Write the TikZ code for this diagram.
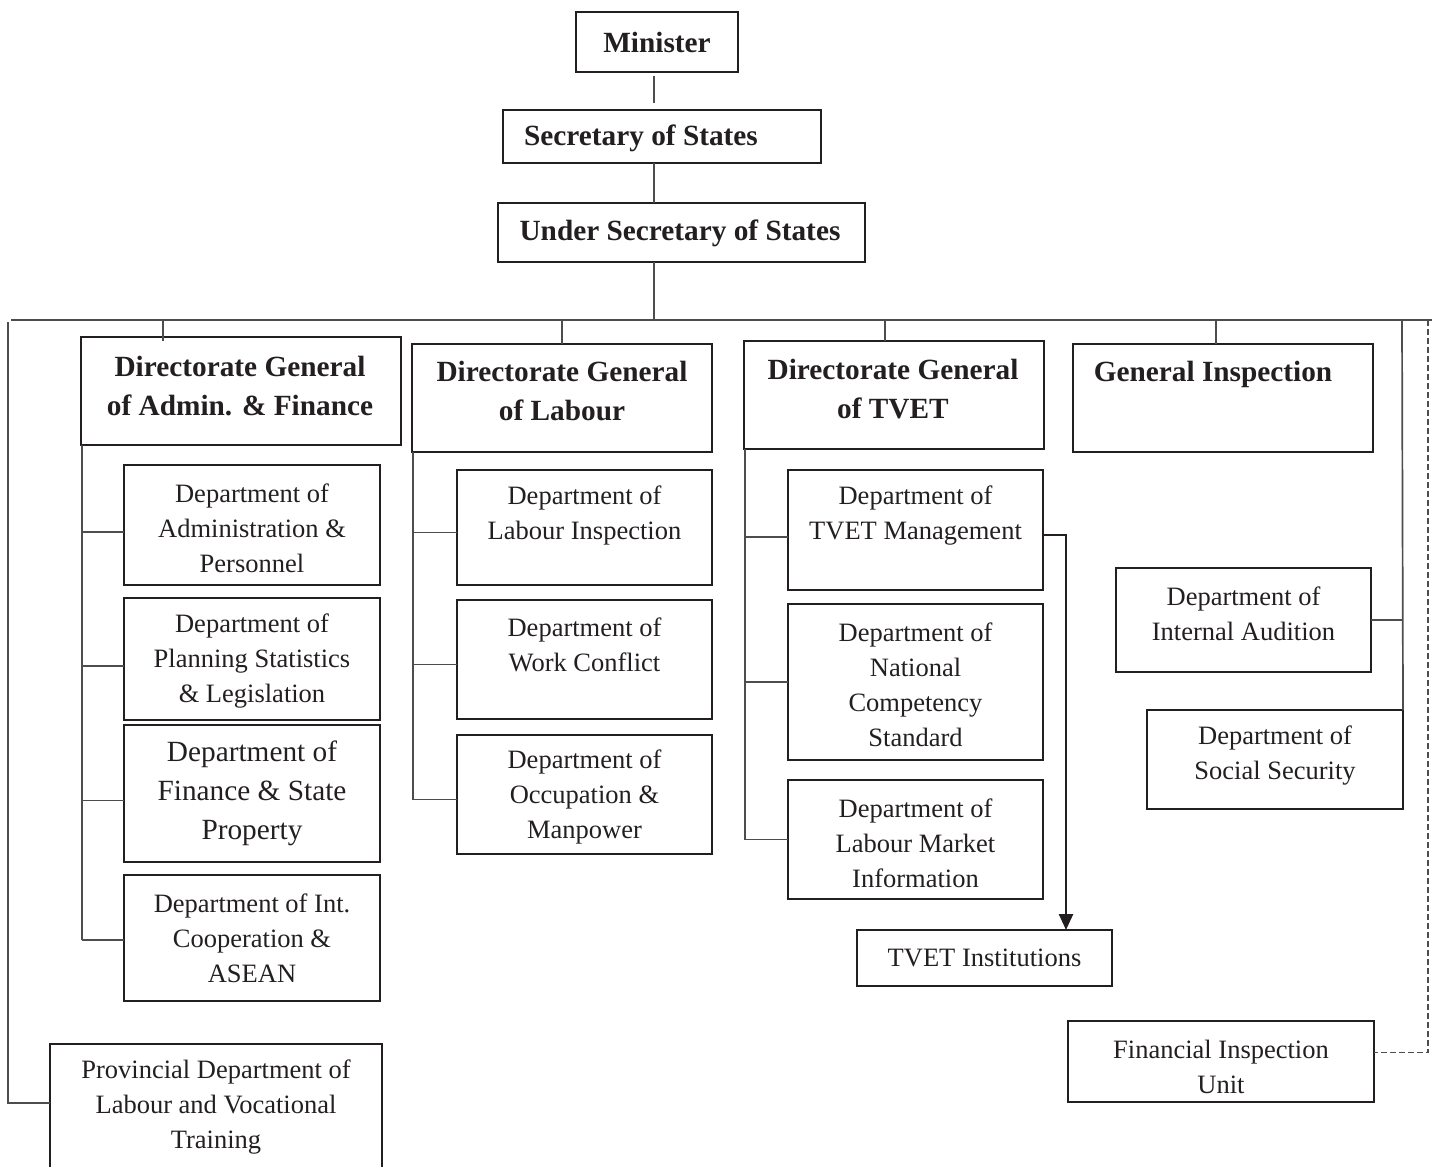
\documentclass[tikz,border=0pt]{standalone}
\usepackage{fontspec}
\setmainfont{Liberation Serif}
\usetikzlibrary{arrows.meta}
\definecolor{ink}{HTML}{231F20}
\definecolor{wirec}{HTML}{4D4D4D}
\tikzset{
  box/.style={draw=ink, line width=2pt, inner sep=0pt, outer sep=0pt, anchor=north west},
  txt/.style={inner sep=0pt, align=center, text=ink, font=\fontsize{26.5}{35}\selectfont},
  bigtxt/.style={txt, font=\fontsize{29.3}{39}\selectfont},
  head/.style={txt, font=\fontsize{29.3}{38.5}\selectfont\bfseries},
  wire/.style={draw=wirec, line width=1.7pt},
  flow/.style={draw=ink, line width=2.5pt, -{Triangle[length=16pt,width=14pt]}},
  dashwire/.style={draw=wirec, line width=1.6pt, dash pattern=on 6pt off 3pt},
}
% \orgbox{name}{x1}{y1}{x2}{y2}{text x}{text y}{text style}{text}
\newcommand\orgbox[9]{%
  \node[box, minimum width={#4pt-#2pt}, minimum height={#5pt-#3pt}] (#1) at (#2,#3) {};
  \node[#8] (#1-t) at (#6,#7) {#9};}
\begin{document}
\begin{tikzpicture}[x=1pt, y=-1pt]
\useasboundingbox (0,0) rectangle (1435,1167);

% top of the hierarchy
\orgbox{min}{576}{12}{738}{72}{657}{42}{head}{Minister}
\orgbox{sec}{503}{110}{821}{163}{641}{138}{head}{Secretary of States}
\orgbox{usec}{498}{203}{865}{262}{680}{233}{head}{Under Secretary of States}

% directorates
\orgbox{adm}{81}{337}{401}{445}{240}{386}{head}{Directorate General\\of Admin. \& Finance}
\orgbox{lab}{412}{344}{712}{452}{562}{391}{head}{Directorate General\\of Labour}
\orgbox{tve}{744}{341}{1044}{449}{893}{389}{head}{Directorate General\\of TVET}
\orgbox{gin}{1073}{344}{1373}{452}{1213}{374}{head}{General Inspection}

% departments under admin & finance
\orgbox{dap}{124}{465}{380}{585}{252}{528}{txt}{Department of\\Administration \&\\Personnel}
\orgbox{dps}{124}{598}{380}{720}{252}{661}{txt}{Department of\\Planning Statistics\\\& Legislation}
\orgbox{dfs}{124}{725}{380}{862}{252}{793}{bigtxt}{Department of\\Finance \& State\\Property}
\orgbox{dic}{124}{875}{380}{1001}{252}{938}{txt}{Department of Int.\\Cooperation \&\\ASEAN}

% departments under labour
\orgbox{dli}{457}{470}{712}{585}{584.5}{515.5}{txt}{Department of\\Labour Inspection}
\orgbox{dwc}{457}{600}{712}{719}{584.5}{645}{txt}{Department of\\Work Conflict}
\orgbox{dom}{457}{735}{712}{854}{584.5}{797}{txt}{Department of\\Occupation \&\\Manpower}

% departments under TVET
\orgbox{dtm}{788}{470}{1043}{590}{915.5}{515.5}{txt}{Department of\\TVET Management}
\orgbox{dnc}{788}{604}{1043}{760}{915.5}{685}{txt}{Department of\\National\\Competency\\Standard}
\orgbox{dlm}{788}{780}{1043}{899}{915.5}{843}{txt}{Department of\\Labour Market\\Information}
\orgbox{tvi}{857}{930}{1112}{986}{984.5}{958}{txt}{TVET Institutions}

% right-hand units
\orgbox{dia}{1116}{568}{1371}{672}{1243.5}{613.5}{txt}{Department of\\Internal Audition}
\orgbox{dss}{1147}{710}{1403}{809}{1275}{755.5}{txt}{Department of\\Social Security}
\orgbox{fiu}{1068}{1021}{1374}{1102}{1221}{1066.5}{txt}{Financial Inspection\\Unit}
\orgbox{pdl}{50}{1044}{382}{1185}{216}{1107}{txt}{Provincial Department of\\Labour and Vocational\\Training}

% spine and main bus
\coordinate (spine) at (654,0);
\coordinate (busL) at (11,320);
\coordinate (busR) at (1432,320);
\coordinate (b1) at (163,320);
\coordinate (b2) at (562,320);
\coordinate (b3) at (885,320);
\coordinate (b4) at (1216,320);
\coordinate (b5) at (1402,320);
\coordinate (b6) at (1428,320);
\coordinate (leftrail) at (8,322);
\coordinate (tvarrow) at (1066,0);

\draw[wire, shorten <=4pt, shorten >=7pt] (min.south -| spine) -- (sec.north -| spine);
\draw[wire] (sec.south -| spine) -- (usec.north -| spine);
\draw[wire] (usec.south -| spine) -- ([yshift=1pt]busL -| spine);
\draw[wire] (busL) -- (busR);

\draw[wire] (b1) -- ([yshift=-4pt]b1 |- adm.north);
\draw[wire] (b2) -- (b2 |- lab.north);
\draw[wire] (b3) -- (b3 |- tve.north);
\draw[wire] (b4) -- (b4 |- gin.north);
\draw[wire] (b5) -- (dss.north east);
\draw[wire] (dia.east) -- (dia.east -| dss.east);
\draw[dashwire] (b6) |- ([yshift=9pt]fiu.east);

% provincial rail on the left
\draw[wire] (leftrail) |- ([yshift=11.5pt]pdl.west);

% admin & finance branches
\draw[wire] ([xshift=1pt]adm.south west) -- ([xshift=1pt, yshift=-2pt]adm.south west |- dic.west);
\foreach \d in {dap,dps,dfs} {
  \draw[wire] ([yshift=-7pt]\d.west) -- ([xshift=1pt, yshift=-7pt]\d.west -| adm.south west);
}
\draw[wire] ([yshift=-2pt]dic.west) -- ([xshift=1pt, yshift=-2pt]dic.west -| adm.south west);

% labour branches
\draw[wire] ([xshift=1pt]lab.south west) -- ([xshift=1pt, yshift=-5pt]lab.south west |- dom.west);
\foreach \d in {dli,dwc,dom} {
  \draw[wire] ([yshift=-5pt]\d.west) -- ([xshift=1pt, yshift=-5pt]\d.west -| lab.south west);
}

% TVET branches
\draw[wire] ([xshift=1pt]tve.south west) -- ([xshift=1pt]tve.south west |- dlm.west);
\draw[wire] ([yshift=-7pt]dtm.west) -- ([xshift=1pt, yshift=-7pt]dtm.west -| tve.south west);
\draw[wire] (dnc.west) -- ([xshift=1pt]dnc.west -| tve.south west);
\draw[wire] (dlm.west) -- ([xshift=1pt]dlm.west -| tve.south west);

% TVET management to institutions
\draw[flow] ([yshift=-5pt]dtm.east) -| (tvi.north -| tvarrow);
\end{tikzpicture}
\end{document}
